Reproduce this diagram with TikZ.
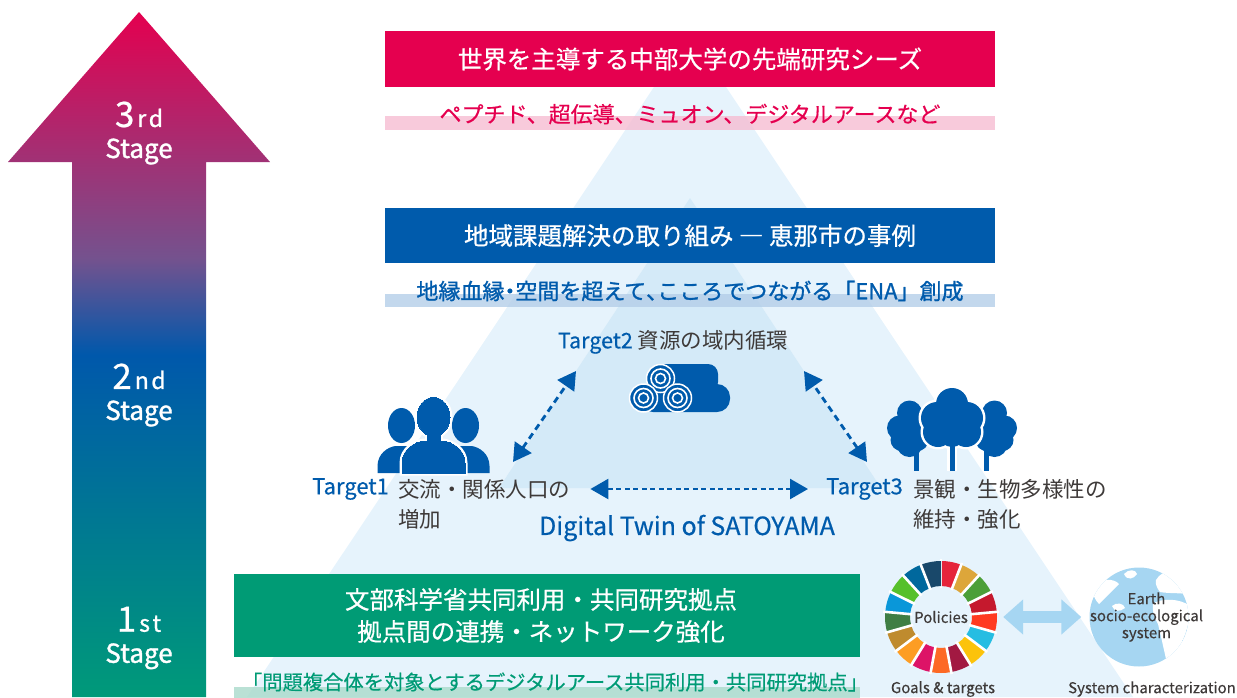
\documentclass[tikz,border=0pt]{standalone}
\usepackage{fontspec}
\setmainfont{Noto Sans CJK JP}
\usepackage{tikz}
\usetikzlibrary{arrows.meta}
\usetikzlibrary{positioning}

\definecolor{chured}{HTML}{E5004F}
\definecolor{chublue}{HTML}{005BAC}
\definecolor{chugreen}{HTML}{009B75}
\definecolor{trilight}{HTML}{E6F3FC}
\definecolor{trimid}{HTML}{D4EAF8}
\definecolor{bandpink}{HTML}{F6BDD2}
\definecolor{bandblue}{HTML}{B4CEE8}
\definecolor{bandgreen}{HTML}{A9DACB}
\definecolor{darktext}{HTML}{3E3A39}
\definecolor{pale}{HTML}{A6D6F2}
% Verlauf im Stufenpfeil
\definecolor{grad1}{HTML}{009A79}
\definecolor{grad2}{HTML}{0058AB}
\definecolor{grad3}{HTML}{74528E}
\definecolor{grad4}{HTML}{E4004F}
\pgfdeclareverticalshading{stagegrad}{100bp}{color(0bp)=(grad1); color(25bp)=(grad1); color(50bp)=(grad2); color(57bp)=(grad3); color(75bp)=(grad4); color(100bp)=(grad4)}
% SDG-Farben
\definecolor{sdg1}{HTML}{E5243B}
\definecolor{sdg2}{HTML}{DDA63A}
\definecolor{sdg3}{HTML}{4C9F38}
\definecolor{sdg4}{HTML}{C5192D}
\definecolor{sdg5}{HTML}{FF3A21}
\definecolor{sdg6}{HTML}{26BDE2}
\definecolor{sdg7}{HTML}{FCC30B}
\definecolor{sdg8}{HTML}{A21942}
\definecolor{sdg9}{HTML}{FD6925}
\definecolor{sdg10}{HTML}{DD1367}
\definecolor{sdg11}{HTML}{FD9D24}
\definecolor{sdg12}{HTML}{BF8B2E}
\definecolor{sdg13}{HTML}{3F7E44}
\definecolor{sdg14}{HTML}{0A97D9}
\definecolor{sdg15}{HTML}{56C02B}
\definecolor{sdg16}{HTML}{00689D}
\definecolor{sdg17}{HTML}{19486A}

\newcommand{\fsz}[1]{\fontsize{#1}{#1}\selectfont}
\newcommand{\fb}[1]{\addfontfeature{FakeBold=#1}}
\newcommand{\pa}[1]{{\addfontfeature{RawFeature=+palt}#1}}

\tikzset{
  banner/.style={fill=#1, text=white, minimum width=610pt, minimum height=56pt, inner sep=0pt, font=\fsz{24.5}\fb{0.6}},
  band/.style={fill=#1, fill opacity=0.8, minimum width=610pt, minimum height=14pt, inner sep=0pt},
  subtext/.style={text=#1, inner sep=0pt, font=\fsz{22}\fb{0.4}},
  tlabel/.style={text=chublue, inner sep=0pt, font=\fsz{22}\fb{0.5}},
  jlabel/.style={text=darktext, inner sep=0pt, font=\fsz{21.5}},
  stagelbl/.style={text=white, inner sep=0pt, align=center, font=\fontsize{26}{31}\selectfont},
  link/.style={chublue, line width=2.8pt, dash pattern=on 6.5pt off 4.5pt,
    {Triangle[length=18pt,width=20pt]}-{Triangle[length=18pt,width=20pt]}},
  small/.style={text=darktext, inner sep=0pt, font=\fsz{15}\fb{0.3}, align=center},
}

\begin{document}
\begin{tikzpicture}[x=1pt, y=-1pt]
  \useasboundingbox (0,0) rectangle (1237,697);

  % Dreiecke im Hintergrund
  \fill[trilight] (690,33) -- (1133,697) -- (247,697) -- cycle;
  \fill[trimid] (690,198) -- (881,488) -- (499,488) -- cycle;

  % Stufenpfeil
  \shade[shading=stagegrad] (139,12) -- (270,162) -- (206,162) -- (206,697)
    -- (72,697) -- (72,162) -- (8,162) -- cycle;
  \foreach \n/\s/\y in {3/r\kern2.5pt d/133, 2/n\kern2.5pt d/395, 1/s\kern2.5pt t/638} {
    \node[stagelbl] (stage\n) at (139,\y) {{\fsz{35}\fb{0.6}\n}\kern3pt{\fsz{23}\fb{1}\s}\\{\fb{1.4}Stage}};
  }

  % 3rd Stage
  \node[banner=chured] (seeds) at (690,59) {世界を主導する中部大学の先端研究シーズ};
  \node[band=bandpink] (seedsband) at (690,123) {};
  \node[subtext=chured] (seedstext) at (690,114) {ペプチド、超伝導、ミュオン、デジタルアースなど};

  % 2nd Stage
  \node[banner=chublue, minimum height=55pt] (ena) at (690,235.5) {地域課題解決の取り組み ― 恵那市の事例};
  \node[band=bandblue, minimum height=13pt] (enaband) at (690,300.5) {};
  \node[subtext=chublue, font=\fsz{22}\fb{1.2}] (enatext) at (690,291)
    {地縁血縁\pa{・}空間を超えて\pa{、}こころでつながる「ENA」創成};

  % Targets
  \node[jlabel] (t2) at (673,342) {{\fb{0.5}\textcolor{chublue}{Target2}} 資源の域内循環};
  \node[tlabel, anchor=west] (t1) at (312,489) {Target1};
  \node[jlabel, anchor=west] (t1a) at (398,489) {交流・関係人口の};
  \node[jlabel, anchor=west] (t1b) at (398,519) {増加};
  \node[tlabel, anchor=west] (t3) at (826,489) {Target3};
  \node[jlabel, anchor=west] (t3a) at (913,489) {景観・生物多様性の};
  \node[jlabel, anchor=west] (t3b) at (913,519) {維持・強化};
  \node[tlabel, font=\fsz{25}\fb{0.6}] (twin) at (687,528) {Digital Twin of SATOYAMA};

  \coordinate (p1) at (513,462);
  \coordinate (p2l) at (576,371);
  \coordinate (p2r) at (804,371);
  \coordinate (p3) at (867,462);
  \draw[link] (p1) -- (p2l);
  \draw[link] (p3) -- (p2r);
  \draw[link, line width=2.5pt, dash pattern=on 5pt off 3.5pt, shorten <=20pt, shorten >=18pt] (t1a.east) -- (t3.west);

  % Personen
  \foreach \hx in {401.5,465.5} {
    \fill[chublue] (\hx,425.5) ellipse [x radius=13.5, y radius=17.5];
    \fill[chublue] (\hx-24,473) -- (\hx-24,466) .. controls (\hx-24,454) and (\hx-14,447) .. (\hx-6,446)
      -- (\hx+6,446) .. controls (\hx+14,447) and (\hx+24,454) .. (\hx+24,466) -- (\hx+24,473) -- cycle;
  }
  \foreach \st/\lw in {white/5pt, chublue/0pt} {
    \filldraw[fill=\st, draw=\st, line width=\lw] (433.5,417) ellipse [x radius=16.5, y radius=19.5];
    \filldraw[fill=\st, draw=\st, line width=\lw] (427,430) rectangle (440,443);
    \filldraw[fill=\st, draw=\st, line width=\lw] (402,473) -- (402,463) .. controls (402,449) and (415,442) .. (424,441)
      -- (443,441) .. controls (452,442) and (465,449) .. (465,463) -- (465,473) -- cycle;
  }

  % Holzstapel
  \fill[chublue, rounded corners=10pt] (655,364) rectangle (718,392);
  \fill[chublue, rounded corners=13pt] (640,384) rectangle (730,412);
  \foreach \cx/\cy in {660.5/378.5, 643.5/398, 677.5/398} {
    \filldraw[fill=chublue, draw=white, line width=1.5pt] (\cx,\cy) circle (14);
    \draw[white, line width=1.6pt] (\cx,\cy) circle (9.5) (\cx,\cy) circle (5);
  }

  % Baeume
  \foreach \cx/\tx in {909.5/916, 994.5/986} {
    \fill[chublue] (\tx-2,445) rectangle (\tx+2.5,471);
    \foreach \dx/\dy/\r in {0/-15/12.5, -10/0/12.5, 10/0/12.5, 0/16/13, -8/12/11, 8/12/11} {
      \fill[chublue] (\cx+\dx,428+\dy) circle (\r);
    }
  }
  \foreach \st/\ex in {white/2.5, chublue/0} {
    \fill[\st] (949.5-\ex,440) rectangle (954.5+\ex,471);
    \foreach \x/\y/\r in {952/404/16, 937/418/16, 967/418/16, 938/432/15, 966/432/15, 952/434/13, 952/420/16} {
      \fill[\st] (\x,\y) circle (\r+\ex);
    }
  }

  % SDG-Rad
  \begin{scope}[shift={(941,617)}, yscale=-1]
    \foreach \c [count=\i from 0] in {sdg1,sdg2,sdg3,sdg4,sdg5,sdg6,sdg7,sdg8,sdg9,sdg10,sdg11,sdg12,sdg13,sdg14,sdg15,sdg16,sdg17} {
      \pgfmathsetmacro{\a}{90-\i*360/17}
      \pgfmathsetmacro{\b}{\a-360/17}
      \fill[\c] (\a:31) arc[start angle=\a, end angle=\b, radius=31] -- (\b:56)
        arc[start angle=\b, end angle=\a, radius=56] -- cycle;
      \draw[white, line width=2.6pt] (\a:29) -- (\a:58);
    }
  \end{scope}
  \node[small, circle, minimum size=112pt] (wheel) at (941,617) {Policies};
  \node[small] (goals) at (943,689) {Goals \& targets};

  % Erde
  \node[circle, fill=pale, minimum size=99pt, inner sep=0pt] (earth) at (1139,617) {};
  \begin{scope}
    \clip (1139,617) circle (49.5);
    \fill[white] (1092,586) .. controls (1100,578) and (1114,578) .. (1119,584)
      .. controls (1113,590) and (1105,598) .. (1099,604) .. controls (1095,600) and (1092,594) .. cycle;
    \fill[white] (1124,574) .. controls (1128,569) and (1136,569) .. (1137,574)
      .. controls (1134,579) and (1127,581) .. cycle;
    \fill[white] (1156,580) .. controls (1162,569) and (1180,566) .. (1194,574)
      -- (1194,596) .. controls (1185,592) and (1170,594) .. (1160,592) .. controls (1157,588) and (1155,584) .. cycle;
    \fill[white] (1153,604) .. controls (1160,598) and (1180,598) .. (1190,606)
      .. controls (1190,625) and (1184,640) .. (1176,652) .. controls (1172,660) and (1170,666) .. (1168,668)
      .. controls (1164,650) and (1160,632) .. (1158,624) .. controls (1154,618) and (1152,610) .. cycle;
    \fill[white] (1112,606) .. controls (1116,602) and (1124,603) .. (1125,608)
      .. controls (1120,612) and (1114,612) .. cycle;
  \end{scope}
  \node[small, align=center, font=\fontsize{15}{17}\selectfont\fb{0.3}, right=-99pt of earth.east] (earthtext)
    {Earth\\socio-ecological\\system};
  \node[small] (syschar) at (1152,689) {System characterization};
  \draw[pale, line width=12pt, {Triangle[length=20pt,width=34pt]}-{Triangle[length=20pt,width=34pt]},
    shorten <=6pt, shorten >=8pt] (wheel) -- (earth);

  % 1st Stage
  \node[banner=chugreen, minimum width=626pt, minimum height=83pt] (hub) at (547,615.5) {};
  \node[text=white, align=center, inner sep=0pt, font=\fontsize{24.5}{32}\selectfont\fb{0.6}] (hubtitle) at (541,615.5)
    {文部科学省共同利用・共同研究拠点\\拠点間の連携・ネットワーク強化};
  \node[band=bandgreen, minimum width=626pt, minimum height=12pt] (hubband) at (547,693) {};
  \node[subtext=chugreen, font=\fsz{20.3}\fb{0.4}] (hubtext) at (555,682) {「問題複合体を対象とするデジタルアース共同利用・共同研究拠点」};
\end{tikzpicture}
\end{document}
